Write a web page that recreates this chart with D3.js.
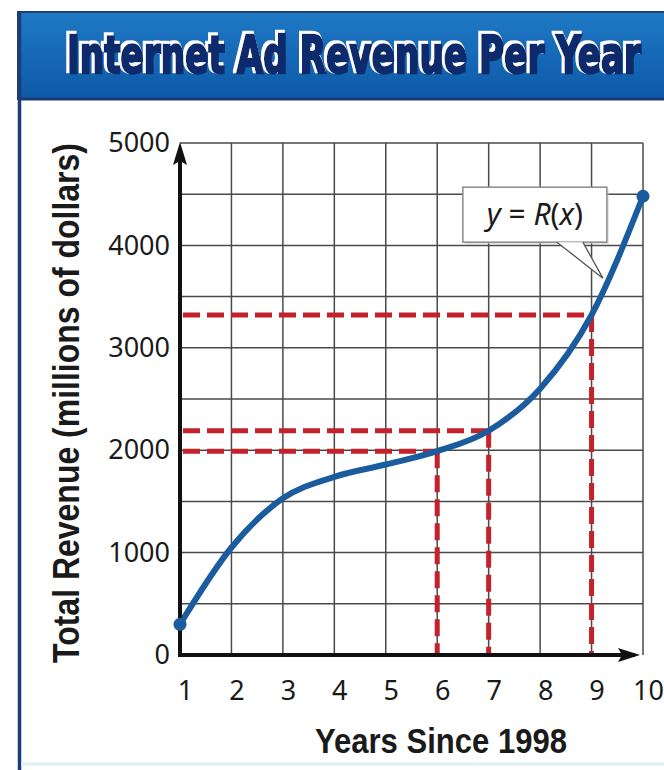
<!DOCTYPE html>
<html>
<head>
<meta charset="utf-8">
<script src="https://cdn.jsdelivr.net/npm/d3@7"></script>
<style>
  body { margin: 0; background: #fff; }
  svg { display: block; }
</style>
</head>
<body>
<div id="chart"></div>
<script>
// chart data
const titleText = 'Internet Ad Revenue Per Year';
const xTitle = 'Years Since 1998';
const yTitle = 'Total Revenue (millions of dollars)';
const years = [1, 2, 3, 4, 5, 6, 7, 8, 9, 10];
const revenue = [300, 1050, 1530, 1740, 1860, 1990, 2190, 2600, 3320, 4480];
const xTicks = [1, 2, 3, 4, 5, 6, 7, 8, 9, 10];
const yTicks = [0, 1000, 2000, 3000, 4000, 5000];
const gridValues = [500, 1000, 1500, 2000, 2500, 3000, 3500, 4000, 4500, 5000];
const readYears = [6, 7, 9];
const readValues = [1990, 2190, 3320];
const calloutAt = [9.22, 3680];

class RevenueChart {

    constructor(_config) {
        this.config = {
            parentElement: _config.parentElement,
            containerWidth: 664,
            containerHeight: 770,
            plot: {left: 180, right: 643, top: 143, bottom: 655},
            header: {x: 18, y: 12, height: 87},
            titleWidth: 574,
            curveColor: '#1b5c9f',
            dashColor: '#c4212b',
            gridColor: '#4a4a4a',
            axisColor: '#111'
        };
        this.initVis();
    }

    initVis() {
        let vis = this;
        const p = vis.config.plot;

        vis.xScale = d3.scaleLinear().domain([1, 10]).range([p.left, p.right]);
        vis.yScale = d3.scaleLinear().domain([0, 5000]).range([p.bottom, p.top]);

        vis.svg = d3.select(vis.config.parentElement).append('svg')
            .attr('width', vis.config.containerWidth)
            .attr('height', vis.config.containerHeight);

        vis.defs = vis.svg.append('defs');
        const grad = vis.defs.append('linearGradient')
            .attr('id', 'header-grad')
            .attr('x1', 0).attr('y1', 0).attr('x2', 0).attr('y2', 1);
        grad.append('stop').attr('offset', '0%').attr('stop-color', '#2079c4');
        grad.append('stop').attr('offset', '55%').attr('stop-color', '#1467b5');
        grad.append('stop').attr('offset', '100%').attr('stop-color', '#0f5aa6');

        // white halo offset up-left behind the title letters
        const halo = vis.defs.append('filter')
            .attr('id', 'title-halo')
            .attr('x', '-5%').attr('y', '-20%').attr('width', '110%').attr('height', '140%');
        halo.append('feMorphology')
            .attr('in', 'SourceAlpha').attr('operator', 'dilate').attr('radius', 1.2)
            .attr('result', 'fat');
        halo.append('feOffset')
            .attr('in', 'fat').attr('dx', -2).attr('dy', -1.5).attr('result', 'moved');
        halo.append('feFlood').attr('flood-color', '#fff').attr('result', 'white');
        halo.append('feComposite')
            .attr('in', 'white').attr('in2', 'moved').attr('operator', 'in').attr('result', 'shadow');
        const merge = halo.append('feMerge');
        merge.append('feMergeNode').attr('in', 'shadow');
        merge.append('feMergeNode').attr('in', 'SourceGraphic');

        vis.renderFrame();
        vis.renderVis();
    }

    // blue header band, title and the panel border
    renderFrame() {
        let vis = this;
        const h = vis.config.header;

        vis.svg.append('rect')
            .attr('x', h.x).attr('y', h.y)
            .attr('width', vis.config.containerWidth - h.x + 2)
            .attr('height', h.height)
            .attr('fill', 'url(#header-grad)')
            .attr('stroke', '#1c3f78')
            .attr('stroke-width', 2);

        vis.svg.append('line')
            .attr('x1', h.x).attr('x2', vis.config.containerWidth)
            .attr('y1', h.y + h.height).attr('y2', h.y + h.height)
            .attr('stroke', '#183a70').attr('stroke-width', 3);

        // left panel edge
        vis.svg.append('line')
            .attr('x1', h.x + 1.5).attr('x2', h.x + 1.5)
            .attr('y1', h.y).attr('y2', vis.config.containerHeight)
            .attr('stroke', '#1d3c78').attr('stroke-width', 3.5);

        // faint bottom edge
        vis.svg.append('line')
            .attr('x1', h.x + 3).attr('x2', vis.config.containerWidth)
            .attr('y1', 764).attr('y2', 764)
            .attr('stroke', '#dcf0f6').attr('stroke-width', 3);

        // title: measured, then scaled to the width and height of the lettering
        const title = vis.svg.append('text')
            .attr('text-anchor', 'middle')
            .attr('font-family', '"Liberation Sans Narrow", "DejaVu Sans Condensed", sans-serif')
            .attr('font-weight', 'bold')
            .attr('font-size', 43)
            .attr('fill', '#0b2c6c')
            .attr('stroke', '#0b2c6c').attr('stroke-width', 2)
            .attr('filter', 'url(#title-halo)')
            .text(titleText);
        const natural = title.node().getComputedTextLength();
        const sx = vis.config.titleWidth / natural;
        title.attr('transform', `translate(354,72.5) scale(${sx},1.2)`);
    }

    renderVis() {
        let vis = this;
        const p = vis.config.plot;
        const x = vis.xScale, y = vis.yScale;

        // grid
        const grid = vis.svg.append('g')
            .attr('stroke', vis.config.gridColor)
            .attr('stroke-width', 1.5);
        grid.selectAll('.v-grid')
            .data(xTicks.slice(1))
            .join('line')
            .attr('x1', d => x(d)).attr('x2', d => x(d))
            .attr('y1', p.top).attr('y2', p.bottom);
        grid.selectAll('.h-grid')
            .data(gridValues)
            .join('line')
            .attr('x1', p.left).attr('x2', p.right)
            .attr('y1', d => y(d)).attr('y2', d => y(d));

        // red dashed read-off lines
        const reads = readYears.map((yr, i) => ({x: yr, v: readValues[i]}));
        const dashes = vis.svg.append('g')
            .attr('stroke', vis.config.dashColor)
            .attr('stroke-width', 5)
            .attr('stroke-dasharray', '17 7')
            .attr('fill', 'none');
        dashes.selectAll('.h-dash')
            .data(reads)
            .join('line')
            .attr('x1', p.left + 3).attr('x2', d => x(d.x))
            .attr('y1', d => y(d.v)).attr('y2', d => y(d.v));
        dashes.selectAll('.v-dash')
            .data(reads)
            .join('line')
            .attr('x1', d => x(d.x)).attr('x2', d => x(d.x))
            .attr('y1', d => y(d.v)).attr('y2', p.bottom);

        // revenue curve
        const series = years.map((yr, i) => ({x: yr, v: revenue[i]}));
        const line = d3.line()
            .x(d => x(d.x))
            .y(d => y(d.v))
            .curve(d3.curveMonotoneX);

        vis.svg.append('path')
            .datum(series)
            .attr('d', line)
            .attr('fill', 'none')
            .attr('stroke', vis.config.curveColor)
            .attr('stroke-width', 6)
            .attr('stroke-linecap', 'round');

        // axes: thick lines with arrow heads
        const axes = vis.svg.append('g').attr('fill', vis.config.axisColor);
        axes.append('line')
            .attr('x1', p.left).attr('x2', p.right - 8)
            .attr('y1', p.bottom).attr('y2', p.bottom)
            .attr('stroke', vis.config.axisColor).attr('stroke-width', 4);
        axes.append('line')
            .attr('x1', p.left).attr('x2', p.left)
            .attr('y1', p.bottom + 2).attr('y2', p.top + 8)
            .attr('stroke', vis.config.axisColor).attr('stroke-width', 4);
        axes.append('path')
            .attr('d', `M${p.right - 3},${p.bottom} L${p.right - 25},${p.bottom - 7} L${p.right - 21},${p.bottom} L${p.right - 25},${p.bottom + 7} Z`);
        axes.append('path')
            .attr('d', `M${p.left},${p.top - 1} L${p.left - 7},${p.top + 22} L${p.left},${p.top + 18} L${p.left + 7},${p.top + 22} Z`);

        // end points
        vis.svg.selectAll('.end-point')
            .data([series[0], series[series.length - 1]])
            .join('circle')
            .attr('cx', d => x(d.x))
            .attr('cy', d => y(d.v))
            .attr('r', 6.5)
            .attr('fill', vis.config.curveColor);

        // tick labels through d3 axes
        const xAxis = d3.axisBottom(x).tickValues(xTicks).tickSize(0).tickPadding(26)
            .tickFormat(d3.format('d'));
        const yAxis = d3.axisLeft(y).tickValues(yTicks).tickSize(0).tickPadding(10)
            .tickFormat(d3.format('d'));

        vis.svg.append('g')
            .attr('transform', `translate(5,${p.bottom})`)
            .call(xAxis)
            .call(g => g.select('.domain').remove())
            .call(g => g.selectAll('text')
                .attr('font-family', '"Noto Sans", sans-serif')
                .attr('font-size', 27)
                .attr('fill', '#1a1a1a'));

        vis.svg.append('g')
            .attr('transform', `translate(${p.left},0)`)
            .call(yAxis)
            .call(g => g.select('.domain').remove())
            .call(g => g.selectAll('text')
                .attr('font-family', '"Noto Sans", sans-serif')
                .attr('font-size', 27)
                .attr('fill', '#1a1a1a'));

        // axis titles
        vis.svg.append('text')
            .attr('x', 441).attr('y', 753)
            .attr('text-anchor', 'middle')
            .attr('font-family', '"Liberation Sans Narrow", sans-serif')
            .attr('font-weight', 'bold')
            .attr('font-size', 35)
            .attr('textLength', 252).attr('lengthAdjust', 'spacingAndGlyphs')
            .attr('fill', '#1a1a1a')
            .text(xTitle);

        vis.svg.append('text')
            .attr('transform', 'translate(79,403) rotate(-90)')
            .attr('text-anchor', 'middle')
            .attr('font-family', '"Liberation Sans Narrow", sans-serif')
            .attr('font-weight', 'bold')
            .attr('font-size', 36)
            .attr('textLength', 520).attr('lengthAdjust', 'spacingAndGlyphs')
            .attr('fill', '#1a1a1a')
            .text(yTitle);

        vis.renderCallout();
    }

    // "y = R(x)" label box with a pointer to the curve
    renderCallout() {
        let vis = this;
        const tipX = vis.xScale(calloutAt[0]);
        const tipY = vis.yScale(calloutAt[1]);
        const box = {x: tipX - 140, y: tipY - 91, w: 144, h: 55};

        const g = vis.svg.append('g');
        g.append('rect')
            .attr('x', box.x + 2).attr('y', box.y + 2)
            .attr('width', box.w).attr('height', box.h)
            .attr('fill', '#c8c8c8').attr('opacity', 0.5);
        g.append('rect')
            .attr('x', box.x).attr('y', box.y)
            .attr('width', box.w).attr('height', box.h)
            .attr('fill', '#fff')
            .attr('stroke', '#8a8a8a').attr('stroke-width', 1.5);

        const pointer = `M${tipX - 46},${box.y + box.h} L${tipX},${tipY} L${tipX - 20},${box.y + box.h}`;
        g.append('path')
            .attr('d', pointer + ' Z')
            .attr('fill', '#fff').attr('stroke', 'none');
        g.append('path')
            .attr('d', pointer)
            .attr('fill', 'none')
            .attr('stroke', '#555').attr('stroke-width', 1.3);

        const label = g.append('text')
            .attr('x', box.x + box.w / 2).attr('y', box.y + 38)
            .attr('text-anchor', 'middle')
            .attr('font-family', '"Noto Sans", sans-serif')
            .attr('font-size', 30)
            .attr('fill', '#1a1a1a');
        label.append('tspan').attr('font-style', 'italic').text('y');
        label.append('tspan').text(' = ');
        label.append('tspan').attr('font-style', 'italic').text('R');
        label.append('tspan').text('(');
        label.append('tspan').attr('font-style', 'italic').text('x');
        label.append('tspan').text(')');
    }
}

const chart = new RevenueChart({parentElement: '#chart'});
</script>
</body>
</html>
